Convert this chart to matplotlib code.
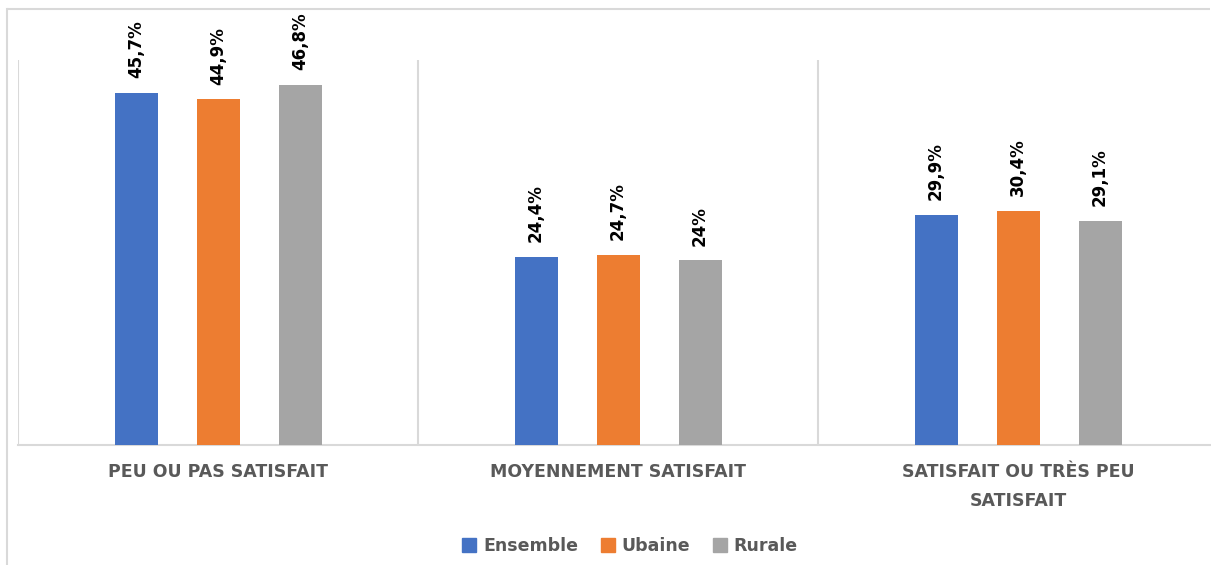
import numpy as np
from matplotlib import pyplot as plt
from matplotlib.lines import Line2D

# données
categories = ['PEU OU PAS SATISFAIT', 'MOYENNEMENT SATISFAIT', 'SATISFAIT OU TRÈS PEU\nSATISFAIT']
series = ['Ensemble', 'Ubaine', 'Rurale']
ensemble = [45.7, 24.4, 29.9]
urbaine = [44.9, 24.7, 30.4]
rurale = [46.8, 24.0, 29.1]
labels_ensemble = ['45,7%', '24,4%', '29,9%']
labels_urbaine = ['44,9%', '24,7%', '30,4%']
labels_rurale = ['46,8%', '24%', '29,1%']

colors = ['#4472C4', '#ED7D31', '#A5A5A5']
grid_col = '#D9D9D9'
text_col = '#595959'

W, H = 1211, 565
fig = plt.figure(figsize=(W / 100, H / 100), dpi=100)

# cadre du graphique
fig.add_artist(Line2D([7 / W, 7 / W], [0, 1 - 9 / H], color=grid_col, lw=1.5))
fig.add_artist(Line2D([7 / W, 1 - 1 / W], [1 - 9 / H, 1 - 9 / H], color=grid_col, lw=1.5,
                      solid_capstyle='butt'))

ax = fig.add_axes([18 / W, 1 - 445 / H, 1200 / W, 385 / H])
x = np.arange(len(categories))
step = 0.205
width = 0.1075
values = [ensemble, urbaine, rurale]
texts = [labels_ensemble, labels_urbaine, labels_rurale]
for i, (vals, labs) in enumerate(zip(values, texts)):
    pos = x + (i - 1) * step
    ax.bar(pos, vals, width=width, color=colors[i], label=series[i], zorder=3)
    for p, v, t in zip(pos, vals, labs):
        ax.text(p, v + 1.9, t, rotation=90, ha='center', va='bottom',
                fontsize=12, fontweight='bold', color='black')

ax.set_xlim(-0.5, 2.5)
ax.set_ylim(0, 50)
for s in ['top', 'right', 'left']:
    ax.spines[s].set_visible(False)
ax.spines['bottom'].set_color(grid_col)
ax.spines['bottom'].set_linewidth(1.5)
for b in [-0.5, 0.5, 1.5]:
    ax.axvline(b, color=grid_col, lw=1.5, zorder=1)
ax.set_yticks([])
ax.set_xticks(x)
ax.set_xticklabels(categories, fontsize=12.5, fontweight='bold', color=text_col,
                   linespacing=1.75)
ax.tick_params(axis='x', length=0, pad=13)

handles = [plt.Rectangle((0, 0), 1, 1, color=c) for c in colors]
leg = fig.legend(handles, series, loc='center', bbox_to_anchor=(630 / W, 1 - 546 / H),
                 ncol=3, frameon=False, handlelength=0.8, handleheight=0.8,
                 columnspacing=1.3, handletextpad=0.4,
                 prop={'weight': 'bold', 'size': 12.5})
for t in leg.get_texts():
    t.set_color(text_col)

plt.savefig('out.png', dpi=100)
